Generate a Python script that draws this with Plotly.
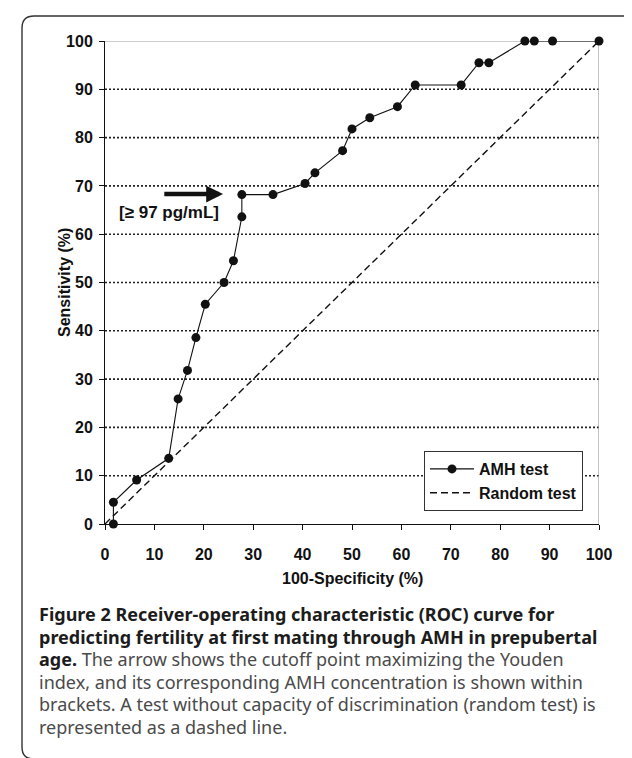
import plotly.graph_objects as go

# ---- data ----
fpr = [1.7, 1.7, 6.4, 12.9, 14.8, 16.7, 18.4, 20.3, 24.1, 26.0, 27.7, 27.7, 34.0,
       40.5, 42.5, 48.1, 50.0, 53.6, 59.2, 62.8, 72.1, 75.7, 77.7, 85.0, 86.9, 90.6, 100]
sens = [0, 4.5, 9.1, 13.6, 25.9, 31.8, 38.6, 45.5, 50.0, 54.5, 63.6, 68.2, 68.2,
        70.5, 72.7, 77.3, 81.8, 84.1, 86.4, 90.9, 90.9, 95.5, 95.5, 100, 100, 100, 100]
random_x = [0, 100]
random_y = [0, 100]
tick_vals = [0, 10, 20, 30, 40, 50, 60, 70, 80, 90, 100]
grid_vals = [10, 20, 30, 40, 50, 60, 70, 80, 90]
series_names = ["AMH test", "Random test"]
x_title = "100-Specificity (%)"
y_title = "Sensitivity (%)"
cutoff_label = "[\u2265 97 pg/mL]"
arrow_tail = [11.7, 68.3]
arrow_tip = [23.9, 68.3]
label_pos = [13.0, 64.4]
BOLD = '<span style="color:#1c1c1c"><b>{}</b></span>'
caption_lines = [
    BOLD.format("Figure 2 Receiver-operating characteristic (ROC) curve for"),
    BOLD.format("predicting fertility at first mating through AMH in prepubertal"),
    BOLD.format("age.") + " The arrow shows the cutoff point maximizing the Youden",
    "index, and its corresponding AMH concentration is shown within",
    "brackets. A test without capacity of discrimination (random test) is",
    "represented as a dashed line.",
]

# ---- layout geometry (pixels) ----
W, H = 632, 758
L, R, T, B = 97, 591, 33, 516
PW, PH = R - L, B - T


def px(x):
    return (x - L) / PW


def py(y):
    return (B - y) / PH


AX_FONT = "Liberation Sans, Arial, sans-serif"
CAP_FONT = "'Noto Sans', 'Open Sans', sans-serif"

fig = go.Figure()
fig.add_trace(go.Scatter(
    x=fpr, y=sens, mode="lines+markers", name=series_names[0],
    line=dict(color="#111", width=1.1),
    marker=dict(symbol="circle", size=9, color="#111"),
    cliponaxis=False,
))
fig.add_trace(go.Scatter(
    x=random_x, y=random_y, mode="lines", name=series_names[1],
    line=dict(color="#111", width=1.4, dash="7px,4px"), cliponaxis=False,
))

shapes = []
for g in grid_vals:
    shapes.append(dict(type="line", xref="x", yref="y", x0=0, x1=100, y0=g, y1=g,
                       line=dict(color="#222", width=1.6, dash="2px,2px"), layer="below"))
# top and right light border
shapes.append(dict(type="line", xref="x", yref="y", x0=0, x1=100, y0=100, y1=100,
                   line=dict(color="#999", width=1.2), layer="below"))
shapes.append(dict(type="line", xref="x", yref="y", x0=100, x1=100, y0=0, y1=100,
                   line=dict(color="#999", width=1.2), layer="below"))

# rounded outer frame
fl, ft, fr, fb, rr = 14, 8, 630, 751, 12
path = (f"M {px(fl)},{py(ft + rr)} Q {px(fl)},{py(ft)} {px(fl + rr)},{py(ft)} "
        f"L {px(fr - rr)},{py(ft)} Q {px(fr)},{py(ft)} {px(fr)},{py(ft + rr)} "
        f"L {px(fr)},{py(fb - rr)} Q {px(fr)},{py(fb)} {px(fr - rr)},{py(fb)} "
        f"L {px(fl + rr)},{py(fb)} Q {px(fl)},{py(fb)} {px(fl)},{py(fb - rr)} Z")
shapes.append(dict(type="path", xref="paper", yref="paper", path=path,
                   line=dict(color="#333", width=1.4)))

annotations = [
    dict(x=arrow_tip[0], y=arrow_tip[1], ax=arrow_tail[0], ay=arrow_tail[1],
         xref="x", yref="y", axref="x", ayref="y", text="", showarrow=True,
         arrowhead=2, arrowsize=0.75, arrowwidth=4.5, arrowcolor="#111", standoff=0),
    dict(x=label_pos[0], y=label_pos[1], xref="x", yref="y", text=f"<b>{cutoff_label}</b>",
         showarrow=False, font=dict(family=AX_FONT, size=17, color="#111")),
    dict(x=px((L + R) / 2), y=py(581), xref="paper", yref="paper", text=f"<b>{x_title}</b>",
         showarrow=False, font=dict(family=AX_FONT, size=16, color="#111")),
    dict(x=px(46), y=py((T + B) / 2), xref="paper", yref="paper", text=f"<b>{y_title}</b>",
         textangle=-90, showarrow=False, font=dict(family=AX_FONT, size=16, color="#111")),
]
cap_top, cap_step = 606, 22.6
for i, line in enumerate(caption_lines):
    annotations.append(dict(
        x=px(29), y=py(cap_top + i * cap_step), xref="paper", yref="paper",
        xanchor="left", yanchor="middle", text=line, showarrow=False, align="left",
        font=dict(family=CAP_FONT, size=18, color="#4a4a4a"),
    ))

fig.update_layout(
    width=W, height=H,
    margin=dict(l=L, r=W - R, t=T, b=H - B),
    paper_bgcolor="white", plot_bgcolor="white",
    shapes=shapes, annotations=annotations,
    legend=dict(x=px(416), y=py(443), xanchor="left", yanchor="top",
                bgcolor="white", bordercolor="#333", borderwidth=1,
                font=dict(family=AX_FONT, size=16, color="#111", weight="bold"),
                traceorder="normal", tracegroupgap=0, itemwidth=44),
    showlegend=True,
)

fig.update_xaxes(range=[0, 100], tickvals=tick_vals, ticks="outside", ticklen=5,
                 tickcolor="#111", showline=True, linecolor="#111", linewidth=1,
                 showgrid=False, zeroline=False, ticklabelstandoff=11,
                 tickfont=dict(family=AX_FONT, size=16, color="#111", weight="bold"))
fig.update_yaxes(range=[0, 100], tickvals=tick_vals, ticks="outside", ticklen=5,
                 tickcolor="#111", showline=True, linecolor="#111", linewidth=1,
                 showgrid=False, zeroline=False, ticklabelstandoff=3,
                 tickfont=dict(family=AX_FONT, size=16, color="#111", weight="bold"))

fig.write_html("out.html")
